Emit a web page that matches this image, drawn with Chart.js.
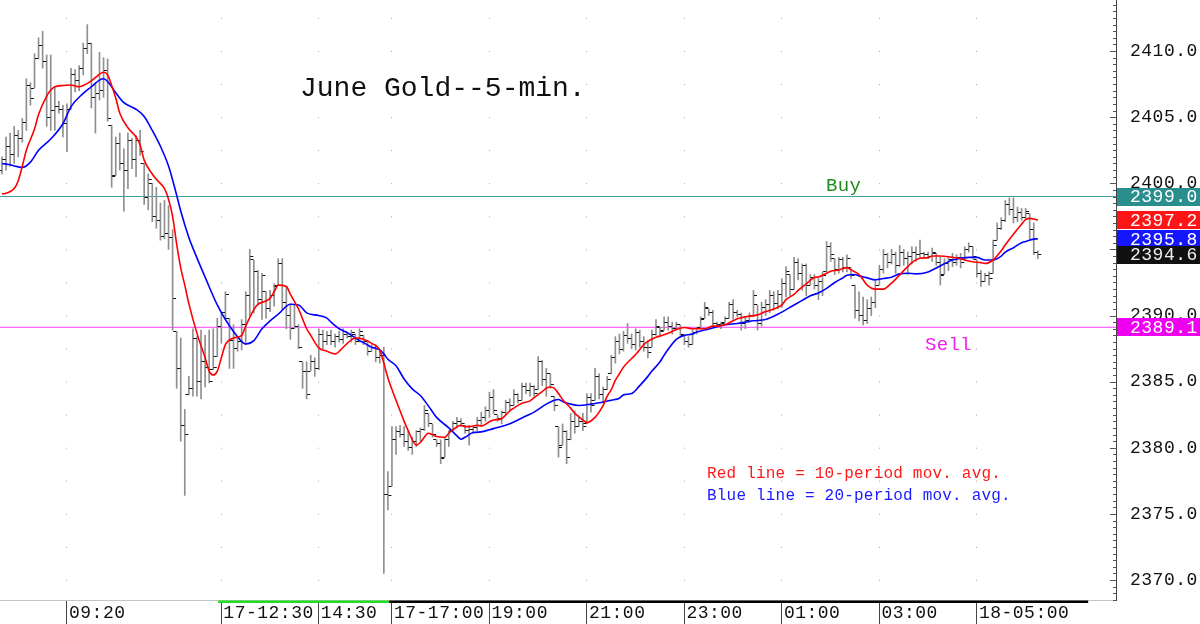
<!DOCTYPE html>
<html><head><meta charset="utf-8">
<script src="https://cdn.jsdelivr.net/npm/chart.js@4.4.1/dist/chart.umd.min.js"></script>
<style>html,body{margin:0;padding:0;background:#fff;overflow:hidden}</style>
</head><body>
<canvas id="c" width="1200" height="624"></canvas>
<script>
// ---- DATA (5-minute bars, index 0 = 08:00) ----
const highs = [
2402.0,2403.5,2403.8,2404.3,2404.0,2404.9,2407.9,2407.6,2409.8,2411.0,
2411.5,2409.7,2409.7,2407.3,2406.2,2405.9,2406.0,2408.7,2408.6,2408.9,
2410.6,2412.0,2410.6,2407.6,2409.9,2409.5,2409.4,2404.4,2403.5,2403.8,
2402.6,2403.8,2403.4,2403.6,2404.0,2401.5,2400.7,2400.0,2399.7,2398.5,
2398.7,2398.3,2396.5,2388.8,2388.3,2382.9,2385.4,2389.0,2388.4,2388.9,
2388.5,2388.9,2389.0,2389.8,2390.3,2391.8,2389.8,2389.3,2388.4,2389.7,
2391.8,2395.0,2394.2,2393.4,2393.2,2391.8,2391.9,2392.4,2394.3,2394.3,
2392.2,2390.9,2390.8,2389.3,2386.5,2386.5,2387.0,2386.8,2389.0,2388.9,
2388.8,2388.9,2388.6,2388.8,2389.0,2388.6,2388.9,2388.6,2389.0,2388.5,
2388.0,2387.8,2387.8,2387.4,2387.6,2378.2,2381.6,2381.6,2381.7,2381.6,
2381.3,2380.8,2381.3,2381.5,2383.2,2382.6,2381.8,2380.6,2380.6,2380.8,
2381.3,2382.0,2382.3,2382.2,2381.7,2381.7,2381.6,2382.3,2382.7,2383.1,
2384.2,2384.4,2382.5,2382.8,2383.6,2383.7,2384.4,2384.1,2384.9,2384.9,
2384.9,2384.7,2386.9,2386.6,2386.0,2385.6,2383.9,2381.6,2381.8,2381.3,
2382.6,2382.8,2382.3,2382.6,2384.1,2384.1,2386.0,2385.6,2384.6,2385.4,
2387.0,2388.4,2388.6,2388.8,2389.4,2388.6,2389.0,2388.9,2388.4,2388.1,
2388.9,2389.7,2389.1,2389.9,2389.9,2389.5,2389.5,2389.3,2388.5,2388.4,
2388.9,2389.1,2389.9,2391.0,2390.5,2390.4,2389.5,2389.5,2389.9,2391.0,
2391.2,2390.4,2390.2,2389.8,2390.2,2391.9,2390.8,2391.0,2391.2,2391.9,
2391.8,2391.9,2392.8,2393.7,2393.1,2394.4,2394.3,2393.9,2393.9,2393.1,
2393.1,2392.8,2393.3,2395.6,2395.5,2394.3,2394.4,2394.4,2394.6,2393.6,
2392.3,2391.8,2391.4,2391.2,2391.4,2392.6,2393.8,2395.0,2394.7,2395.0,
2394.8,2395.3,2395.0,2394.8,2395.2,2395.2,2395.7,2394.8,2394.8,2395.1,
2394.7,2394.4,2394.3,2394.4,2394.7,2394.6,2394.7,2395.2,2395.5,2395.2,
2394.2,2393.4,2393.2,2393.3,2395.7,2397.0,2397.4,2398.7,2398.9,2398.9,
2398.2,2398.1,2398.1,2397.7,2397.0,2394.9];
const lows = [
2400.7,2401.0,2401.3,2401.5,2402.0,2403.1,2404.0,2405.9,2407.2,2409.4,
2408.7,2404.3,2404.0,2404.0,2405.3,2403.5,2402.4,2405.6,2406.9,2407.0,
2408.2,2409.8,2405.7,2403.8,2406.3,2406.5,2404.7,2399.7,2400.6,2401.0,
2397.9,2399.6,2401.1,2400.5,2402.1,2398.4,2398.0,2397.1,2396.6,2395.7,
2395.8,2395.0,2388.9,2384.5,2380.5,2376.4,2384.0,2383.9,2383.9,2383.7,
2384.6,2384.9,2385.9,2386.9,2387.9,2389.7,2386.0,2386.0,2387.3,2387.4,
2387.8,2390.0,2390.2,2390.8,2389.7,2389.8,2390.3,2390.7,2392.3,2390.4,
2389.0,2388.2,2389.0,2387.5,2384.5,2383.7,2385.8,2385.4,2385.9,2387.5,
2387.8,2387.8,2387.6,2388.0,2387.9,2388.3,2388.0,2387.8,2388.0,2387.8,
2387.0,2387.3,2386.5,2386.4,2370.5,2375.3,2377.1,2379.5,2380.8,2380.1,
2379.8,2379.5,2380.1,2380.5,2381.3,2381.6,2380.8,2380.1,2378.8,2379.3,
2380.1,2381.3,2381.5,2381.6,2381.1,2380.2,2381.1,2381.3,2381.6,2382.0,
2382.3,2382.6,2382.0,2381.8,2382.5,2382.8,2383.2,2383.4,2383.6,2384.1,
2383.9,2383.9,2384.4,2384.7,2383.9,2384.5,2382.8,2379.3,2380.2,2378.8,
2380.6,2381.1,2381.6,2381.3,2381.8,2382.7,2383.6,2383.7,2383.4,2384.4,
2385.6,2386.4,2387.1,2387.3,2387.9,2387.5,2387.4,2387.6,2387.3,2386.8,
2387.6,2388.5,2388.5,2388.9,2388.9,2388.6,2388.9,2388.5,2387.8,2387.6,
2387.8,2388.6,2389.1,2389.8,2390.0,2389.1,2389.1,2389.0,2389.5,2389.8,
2389.7,2389.9,2388.9,2389.0,2389.5,2389.9,2388.9,2389.2,2390.0,2390.2,
2390.4,2390.5,2390.6,2391.4,2391.5,2392.0,2392.7,2391.9,2391.5,2392.3,
2392.0,2391.2,2391.5,2393.3,2394.1,2393.1,2393.2,2393.3,2393.3,2392.8,
2389.8,2389.6,2389.3,2389.4,2390.0,2390.6,2392.3,2393.2,2393.6,2393.9,
2393.2,2393.7,2393.8,2393.1,2393.9,2394.1,2394.4,2394.4,2394.3,2394.1,
2393.8,2392.3,2393.1,2393.4,2393.7,2393.8,2393.6,2394.2,2394.8,2394.3,
2392.9,2392.2,2392.6,2392.3,2393.2,2395.7,2396.5,2397.1,2397.6,2397.0,
2397.1,2397.2,2397.3,2395.8,2394.6,2394.3];
const opens = [
2401.0,2401.8,2402.8,2402.2,2403.6,2403.4,2404.6,2407.4,2407.2,2409.4,
2410.4,2409.2,2405.0,2405.5,2405.8,2405.6,2404.5,2405.6,2408.2,2407.8,
2408.7,2410.2,2410.6,2406.5,2406.8,2407.0,2408.5,2404.4,2400.6,2403.0,
2401.5,2401.0,2403.2,2401.8,2403.2,2401.5,2398.9,2400.0,2397.5,2397.2,
2396.0,2396.2,2395.9,2388.8,2386.0,2381.7,2384.0,2384.5,2388.3,2385.0,
2386.5,2386.1,2385.9,2386.9,2389.2,2390.2,2389.8,2388.1,2387.5,2388.0,
2389.3,2391.5,2394.2,2393.3,2391.2,2391.8,2390.5,2391.5,2392.3,2393.9,
2391.0,2390.0,2389.0,2389.2,2386.5,2385.8,2385.8,2386.5,2386.0,2388.6,
2388.0,2388.5,2388.0,2388.4,2388.2,2388.6,2388.4,2388.6,2388.0,2388.5,
2388.0,2387.3,2387.6,2386.8,2387.0,2376.5,2377.1,2380.6,2381.2,2381.0,
2380.5,2380.0,2380.5,2381.2,2381.4,2382.6,2381.8,2380.6,2380.3,2379.3,
2380.6,2381.3,2381.8,2382.0,2381.7,2381.3,2381.4,2381.5,2382.1,2382.3,
2382.8,2383.8,2382.5,2382.2,2382.7,2383.4,2383.2,2384.0,2383.6,2384.6,
2384.3,2384.6,2384.4,2386.5,2385.2,2385.6,2383.9,2381.6,2380.2,2381.2,
2380.6,2382.0,2381.6,2382.0,2381.8,2383.8,2383.6,2385.4,2384.0,2384.4,
2385.6,2386.8,2388.0,2387.4,2388.5,2388.3,2387.8,2388.7,2388.0,2387.6,
2387.6,2388.6,2389.1,2388.9,2389.5,2389.2,2389.0,2389.3,2388.5,2388.0,
2387.8,2388.7,2389.1,2389.8,2390.5,2390.2,2389.4,2389.3,2389.5,2389.8,
2390.8,2390.2,2390.1,2389.4,2389.6,2390.0,2390.8,2389.4,2390.6,2390.8,
2391.5,2390.9,2391.6,2392.4,2393.1,2392.0,2394.0,2393.2,2393.8,2392.3,
2392.9,2392.3,2392.6,2393.3,2395.2,2394.3,2393.5,2394.2,2393.6,2393.6,
2392.3,2390.4,2390.0,2389.6,2390.5,2391.0,2392.3,2393.5,2394.6,2394.0,
2394.6,2393.8,2394.8,2394.3,2394.5,2394.8,2394.6,2394.7,2394.6,2394.5,
2394.7,2394.0,2393.1,2393.9,2394.2,2394.0,2394.4,2394.2,2395.0,2395.2,
2394.2,2393.2,2392.6,2393.0,2393.2,2395.7,2396.6,2397.2,2398.4,2398.0,
2397.4,2397.8,2397.4,2397.7,2396.5,2394.8];
const closes = [
2401.8,2402.8,2402.2,2403.6,2403.4,2404.6,2407.4,2406.4,2409.4,2410.4,
2409.2,2405.0,2405.5,2405.8,2405.6,2404.5,2405.6,2408.2,2407.8,2408.7,
2410.2,2410.6,2406.5,2406.8,2407.0,2408.5,2404.9,2400.5,2403.0,2401.5,
2401.0,2403.2,2401.8,2403.2,2402.4,2398.9,2400.3,2397.5,2397.2,2396.0,
2396.2,2395.9,2391.3,2386.0,2381.7,2381.0,2384.5,2388.3,2385.0,2386.5,
2386.1,2385.0,2386.1,2389.2,2390.2,2391.6,2388.1,2387.5,2388.0,2389.3,
2391.5,2394.5,2393.3,2391.2,2393.0,2390.5,2391.5,2392.2,2393.9,2391.0,
2390.0,2389.0,2389.2,2387.6,2385.8,2384.0,2386.5,2386.0,2388.6,2388.0,
2388.5,2388.0,2388.4,2388.2,2388.8,2388.4,2388.7,2388.0,2388.8,2388.0,
2387.3,2387.6,2386.8,2387.0,2376.5,2376.4,2380.6,2381.2,2381.0,2380.5,
2380.0,2380.5,2381.2,2381.4,2382.8,2381.8,2381.0,2380.3,2379.2,2380.6,
2381.2,2381.8,2382.0,2381.8,2381.3,2381.4,2381.5,2382.1,2382.3,2382.8,
2383.8,2382.8,2382.2,2382.7,2383.4,2383.2,2384.0,2383.6,2384.6,2384.3,
2384.6,2384.1,2386.5,2385.2,2385.6,2384.8,2383.2,2380.0,2381.2,2379.3,
2382.0,2381.6,2382.0,2381.6,2383.8,2383.2,2385.4,2384.0,2384.4,2385.2,
2386.8,2388.0,2387.4,2388.5,2388.3,2387.8,2388.7,2388.0,2387.6,2387.2,
2388.6,2389.2,2388.8,2389.5,2389.2,2389.0,2389.3,2388.6,2388.0,2387.8,
2388.7,2389.0,2389.7,2390.6,2390.2,2389.4,2389.3,2389.4,2389.8,2390.8,
2390.2,2390.1,2389.4,2389.6,2390.0,2391.5,2389.4,2390.6,2390.8,2391.5,
2390.9,2391.6,2392.4,2393.3,2392.0,2394.0,2393.2,2393.8,2392.3,2392.9,
2392.3,2392.6,2393.0,2395.2,2394.6,2393.5,2394.2,2393.6,2394.3,2393.0,
2390.4,2390.0,2389.6,2390.5,2391.0,2392.3,2393.5,2394.6,2394.0,2394.6,
2393.8,2394.8,2394.3,2394.5,2394.8,2394.6,2394.7,2394.6,2394.5,2394.8,
2394.0,2393.0,2393.9,2394.2,2394.0,2394.4,2394.0,2395.0,2395.2,2394.5,
2393.2,2392.6,2393.0,2392.8,2395.3,2396.6,2397.2,2398.4,2398.0,2397.4,
2397.8,2397.4,2397.9,2396.5,2394.8,2394.6];
// 10-period moving average: [bar index, value]
const redMA = [[0,2399.2],[1,2399.25],[3,2399.6],[4,2400.2],[5,2401.3],[6,2402.5],[8,2404.1],[9,2405.2],[11,2406.6],[12,2407.05],[13,2407.3],[15,2407.4],[17,2407.43],[19,2407.3],[20,2407.4],[22,2407.75],[23,2408.0],[25,2408.4],[26,2408.2],[27,2407.4],[28,2406.45],[29,2405.3],[31,2404.2],[33,2403.5],[34,2402.9],[35,2401.75],[37,2400.7],[38,2400.3],[40,2399.6],[41,2398.8],[42,2397.5],[43,2395.4],[44,2393.6],[45,2392.3],[46,2390.9],[48,2388.65],[50,2386.8],[51,2385.8],[52,2385.5],[53,2385.8],[54,2386.8],[55,2387.8],[57,2388.3],[59,2388.5],[60,2389.2],[62,2390.45],[63,2390.85],[65,2391.1],[66,2391.3],[67,2391.8],[68,2392.3],[70,2392.2],[71,2391.6],[73,2390.5],[75,2389.0],[76,2388.5],[78,2387.55],[80,2387.3],[82,2387.1],[84,2387.6],[85,2387.9],[87,2388.3],[89,2388.2],[91,2387.9],[93,2387.4],[94,2386.4],[95,2385.3],[96,2384.4],[97,2383.6],[99,2382.0],[100,2381.3],[102,2380.2],[103,2380.4],[105,2381.1],[106,2381.0],[107,2380.85],[109,2380.8],[110,2381.1],[111,2381.35],[113,2381.7],[114,2381.6],[115,2381.6],[117,2381.7],[118,2381.65],[120,2381.97],[121,2382.1],[123,2382.2],[125,2382.8],[126,2383.0],[128,2383.36],[130,2383.55],[131,2383.8],[133,2384.25],[134,2384.5],[135,2384.6],[136,2384.5],[137,2384.1],[138,2383.65],[140,2383.0],[141,2382.6],[142,2382.35],[143,2382.1],[144,2381.9],[146,2382.3],[147,2382.7],[148,2383.2],[149,2383.9],[150,2384.4],[151,2385.1],[152,2385.6],[153,2386.1],[155,2386.75],[156,2387.05],[158,2387.8],[159,2388.05],[161,2388.35],[163,2388.55],[165,2388.8],[166,2388.95],[168,2389.1],[170,2389.0],[171,2389.0],[173,2389.0],[175,2389.2],[176,2389.2],[178,2389.3],[180,2389.6],[181,2389.75],[183,2389.9],[184,2389.95],[186,2390.05],[188,2390.3],[190,2390.5],[192,2390.8],[193,2391.2],[195,2391.6],[196,2391.9],[198,2392.4],[200,2392.88],[201,2392.92],[203,2393.2],[204,2393.35],[206,2393.45],[207,2393.55],[208,2393.62],[209,2393.45],[210,2393.3],[211,2393.1],[212,2392.7],[213,2392.3],[215,2392.0],[217,2392.0],[219,2392.45],[220,2392.75],[222,2393.4],[223,2393.7],[224,2394.0],[226,2394.33],[228,2394.38],[229,2394.5],[231,2394.5],[233,2394.45],[236,2394.3],[237,2394.2],[239,2394.07],[241,2394.0],[242,2393.94],[244,2394.2],[246,2394.9],[247,2395.35],[249,2396.15],[251,2396.9],[252,2397.25],[253,2397.35],[254,2397.3],[255,2397.2]];
// 20-period moving average: [bar index, value]
const blueMA = [[0,2401.5],[2,2401.4],[5,2401.2],[7,2401.6],[9,2402.5],[12,2403.35],[15,2404.5],[17,2405.8],[20,2406.8],[22,2407.3],[24,2407.8],[25,2407.9],[26,2407.7],[28,2406.85],[30,2406.1],[33,2405.6],[35,2405.05],[37,2404.0],[39,2402.8],[41,2401.3],[43,2399.1],[44,2397.9],[46,2395.9],[47,2395.1],[50,2392.9],[53,2390.8],[55,2389.7],[58,2388.4],[60,2387.85],[62,2388.1],[64,2389.0],[66,2389.6],[68,2390.1],[71,2390.85],[73,2390.8],[75,2390.2],[78,2390.0],[80,2389.8],[81,2389.5],[83,2389.0],[85,2388.7],[88,2388.1],[89,2387.95],[91,2387.6],[93,2387.4],[94,2387.1],[95,2386.7],[97,2386.2],[99,2385.2],[101,2384.45],[103,2383.95],[105,2383.15],[107,2382.3],[110,2381.5],[112,2380.9],[113,2380.65],[114,2380.8],[116,2381.15],[118,2381.2],[121,2381.45],[124,2381.7],[126,2381.95],[129,2382.4],[131,2382.7],[134,2383.3],[136,2383.6],[137,2383.65],[138,2383.5],[140,2383.3],[142,2383.2],[145,2383.3],[147,2383.4],[150,2383.6],[152,2383.75],[153,2384.0],[155,2384.1],[157,2384.7],[159,2385.4],[160,2385.8],[162,2386.5],[163,2387.0],[164,2387.45],[166,2388.2],[168,2388.5],[170,2388.6],[171,2388.75],[173,2388.9],[176,2389.15],[178,2389.3],[181,2389.4],[183,2389.5],[185,2389.6],[188,2389.7],[191,2390.1],[195,2390.8],[197,2391.15],[199,2391.5],[201,2391.7],[203,2392.05],[205,2392.5],[207,2392.85],[208,2393.05],[210,2393.1],[211,2393.0],[213,2392.85],[215,2392.7],[217,2392.8],[219,2392.9],[221,2393.15],[223,2393.2],[225,2393.15],[228,2393.3],[231,2393.75],[234,2394.2],[238,2394.4],[240,2394.4],[242,2394.2],[244,2394.2],[246,2394.5],[247,2394.8],[249,2395.13],[251,2395.5],[252,2395.6],[254,2395.78],[255,2395.8]];
const tickIdx = [16,54,78,96,120,144,168,192,216,240];
const tickLabels = ['09:20','17-12:30','14:30','17-17:00','19:00','21:00','23:00','01:00','03:00','18-05:00'];
const yTicks = [2370,2375,2380,2385,2390,2395,2400,2405,2410];
const buyLevel = 2399.0, sellLevel = 2389.1;
const lastRed = 2397.2, lastBlue = 2395.8, lastClose = 2394.6;
const sessionGreen = [53.2, 95.3], sessionBlack = [95.3, 267.4];
const xMin = -0.492, xMax = 274.25, yMin = 2368.49, yMax = 2413.86;

// ---- rendering ----
const MONO = '"Liberation Mono","DejaVu Sans Mono",monospace';
function tickImg(right){
  const c = document.createElement('canvas'); c.width = 9; c.height = 1;
  const g = c.getContext('2d'); g.fillStyle = '#111';
  if (right) g.fillRect(5,0,3,1); else g.fillRect(1,0,3,1);
  return c;
}
const closeImg = tickImg(true), openImg = tickImg(false);

const decor = {
  id: 'decor',
  beforeDraw(chart){
    const c = chart.ctx;
    c.save(); c.fillStyle = '#fff'; c.fillRect(0,0,chart.width,chart.height); c.restore();
    c.letterSpacing = '0.5px';
  },
  afterDraw(chart){
    const c = chart.ctx, xs = chart.scales.x, ys = chart.scales.y, ca = chart.chartArea;
    c.save();
    // minor ticks on price axis
    c.strokeStyle = '#555'; c.lineWidth = 1;
    for (let k = Math.ceil(yMin*2); k <= Math.floor(yMax*2); k++) {
      const v = k/2, y = Math.round(ys.getPixelForValue(v)) + 0.5;
      const len = (k % 10 === 0) ? 6 : 3;
      c.beginPath(); c.moveTo(ca.right - len, y); c.lineTo(ca.right, y); c.stroke();
    }
    // session strip
    c.fillStyle = '#22dd22';
    c.fillRect(xs.getPixelForValue(sessionGreen[0]), ca.bottom + 0.5, xs.getPixelForValue(sessionGreen[1]) - xs.getPixelForValue(sessionGreen[0]), 2.5);
    c.fillStyle = '#000';
    c.fillRect(xs.getPixelForValue(sessionBlack[0]), ca.bottom + 0.5, xs.getPixelForValue(sessionBlack[1]) - xs.getPixelForValue(sessionBlack[0]), 2.5);
    // texts
    c.textBaseline = 'middle'; c.textAlign = 'left';
    c.letterSpacing = '0px';
    c.fillStyle = '#111'; c.font = '28px ' + MONO;
    c.fillText('June Gold--5-min.', 300, 89);
    c.font = '16px ' + MONO; c.letterSpacing = '0.2px';
    c.fillStyle = '#ff1a1a'; c.fillText('Red line = 10-period mov. avg.', 707, 474);
    c.fillStyle = '#1a1aff'; c.fillText('Blue line = 20-period mov. avg.', 707, 496);
    c.font = '19px ' + MONO; c.letterSpacing = '0.3px';
    c.fillStyle = '#1e8c1e'; c.fillText('Buy', 826, ys.getPixelForValue(buyLevel) - 11);
    c.fillStyle = '#ee22ee'; c.fillText('Sell', 925, ys.getPixelForValue(sellLevel) + 18);
    // value boxes on price axis
    c.font = '18px ' + MONO; c.letterSpacing = '0.5px';
    const box = (v, bg, fg) => {
      const y = ys.getPixelForValue(v);
      c.fillStyle = bg; c.fillRect(ca.right + 1, Math.round(y - 9), chart.width - ca.right - 1, 18);
      c.fillStyle = fg; c.fillText(v.toFixed(1), ca.right + 14, y + 1);
    };
    box(buyLevel, '#2b8e8e', '#fff');
    box(sellLevel, '#f000f0', '#fff');
    box(lastRed, '#ff1515', '#fff');
    box(lastBlue, '#1515ff', '#fff');
    box(lastClose, '#111', '#eee');
    c.restore();
  }
};

new Chart(document.getElementById('c'), {
  type: 'bar',
  data: {
    datasets: [
      { type:'line', data:[{x:xMin,y:buyLevel},{x:xMax,y:buyLevel}], borderColor:'#3f9f9f', borderWidth:1.2, pointRadius:0, order:6 },
      { type:'line', data:[{x:xMin,y:sellLevel},{x:xMax,y:sellLevel}], borderColor:'#ff66ff', borderWidth:1.2, pointRadius:0, order:6 },
      { type:'bar', data: highs.map((h,i)=>({x:i, y:[lows[i], h]})), backgroundColor:'#8f8f8f', barThickness:1, borderWidth:0, order:5 },
      { type:'scatter', data: opens.map((v,i)=>({x:i, y:v})), pointStyle: openImg, pointRadius:3, order:4 },
      { type:'scatter', data: closes.map((v,i)=>({x:i, y:v})), pointStyle: closeImg, pointRadius:3, order:4 },
      { type:'line', data: blueMA.map(([i,v])=>({x:i,y:v})), borderColor:'#0000ff', borderWidth:1.6, pointRadius:0, cubicInterpolationMode:'monotone', order:2 },
      { type:'line', data: redMA.map(([i,v])=>({x:i,y:v})), borderColor:'#ff0000', borderWidth:1.6, pointRadius:0, cubicInterpolationMode:'monotone', order:1 }
    ]
  },
  options: {
    responsive: false, animation: false, events: [],
    layout: { padding: 0, autoPadding: false },
    plugins: { legend: { display:false }, tooltip: { enabled:false }, title: { display:false } },
    scales: {
      x: {
        type:'linear', min:xMin, max:xMax, offset:false,
        afterBuildTicks: s => { s.ticks = tickIdx.map(v => ({value:v})); },
        afterFit: s => { s.height = 24; s.paddingLeft = 0; s.paddingRight = 0; },
        ticks: { autoSkip:false, maxRotation:0, minRotation:0, align:'start', padding:-22, labelOffset:2,
                 color:'#111', font:{family:MONO, size:18},
                 callback: v => tickLabels[tickIdx.indexOf(v)] },
        grid: { display:true, offset:false, drawOnChartArea:true, drawTicks:true, tickLength:24, color:'#a8a8a8', lineWidth:1, tickColor:'#444', tickWidth:1 },
        border: { display:true, color:'#c4c4c4', width:1, dash:[1,32.06], dashOffset:15.16 }
      },
      y: {
        position:'right', min:yMin, max:yMax,
        afterBuildTicks: s => { s.ticks = yTicks.map(v => ({value:v})); },
        afterFit: s => { s.width = 84; s.paddingTop = 0; s.paddingBottom = 0; },
        ticks: { padding:14, color:'#111', font:{family:MONO, size:18}, callback: v => Number(v).toFixed(1) },
        grid: { display:true, offset:false, drawOnChartArea:false, drawTicks:false },
        border: { display:true, color:'#444', width:1 }
      }
    }
  },
  plugins: [decor]
});
</script>
</body></html>
